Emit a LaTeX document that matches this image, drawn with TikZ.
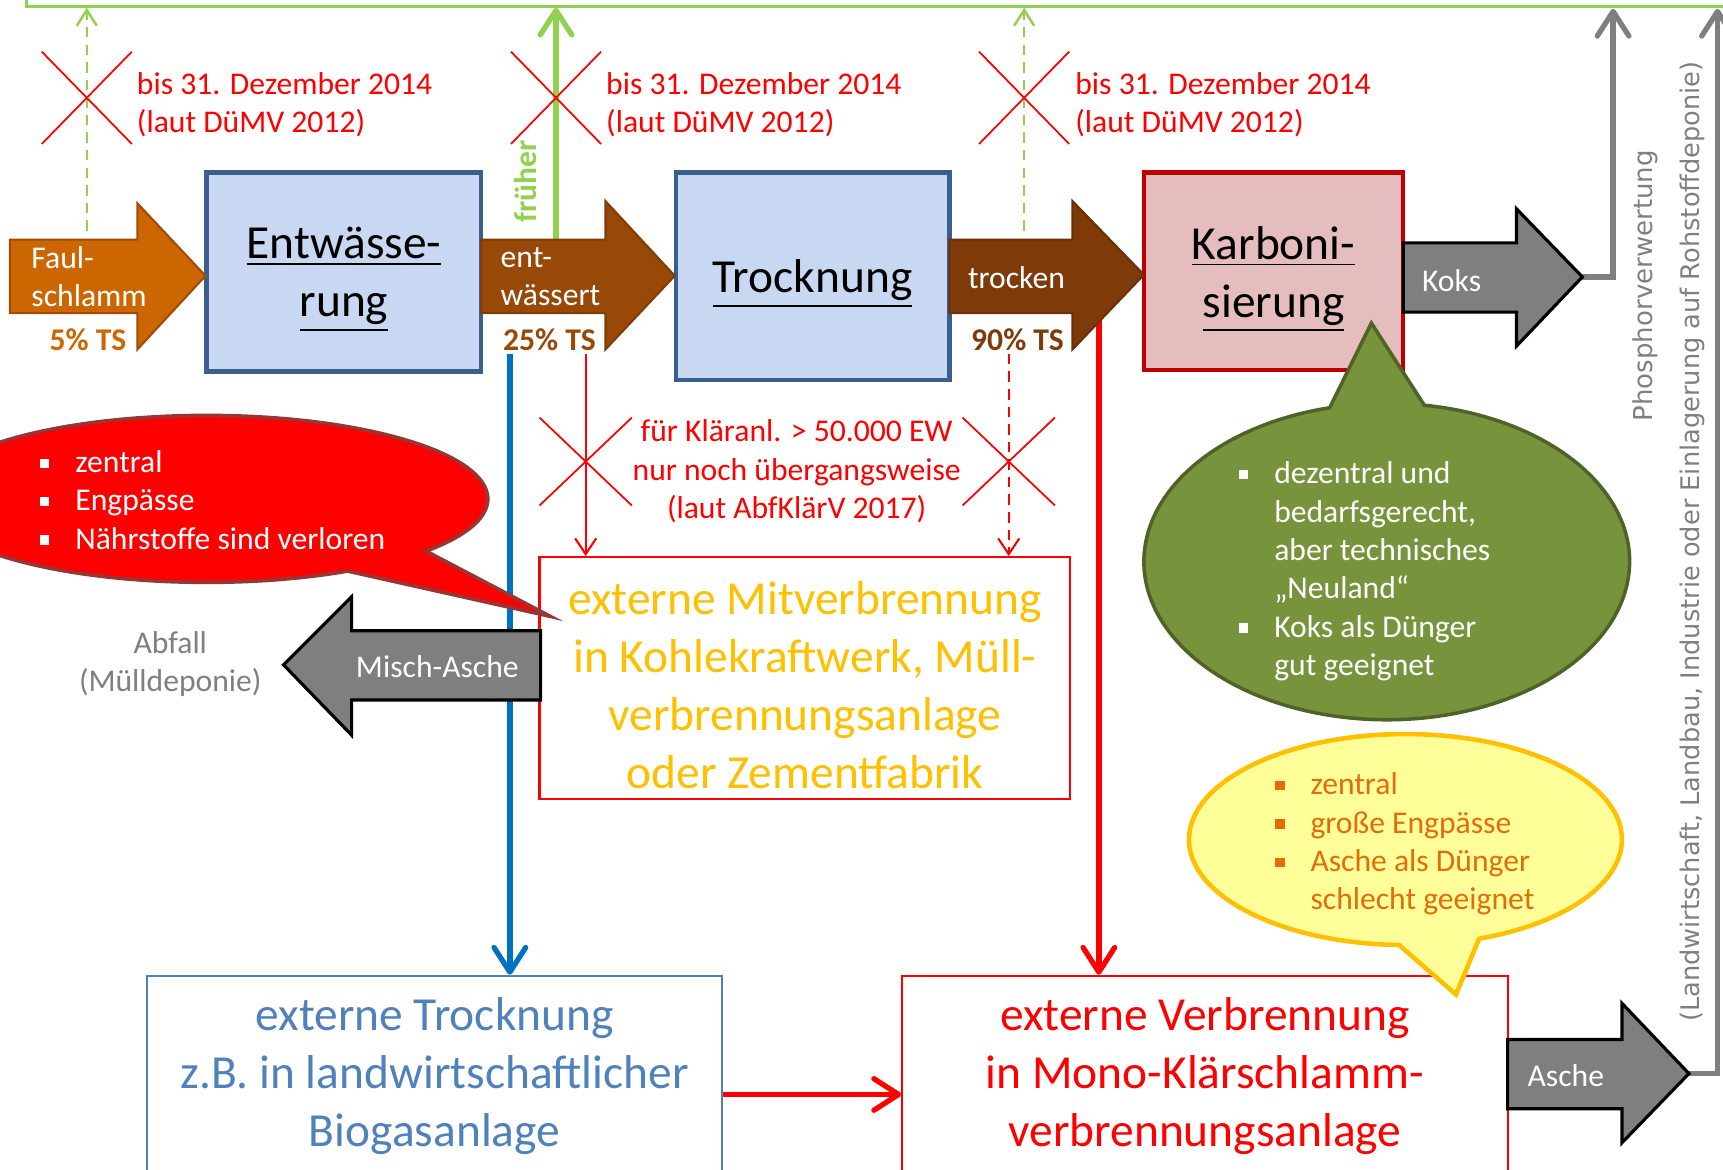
\documentclass[tikz,border=0pt]{standalone}
\usepackage{fontspec}
\setmainfont{Carlito}
\newfontfamily\sidefont{DejaVu Sans}
\usetikzlibrary{arrows.meta,calc}

\definecolor{faulorange}{HTML}{CC6600}
\definecolor{faulborder}{HTML}{A04C06}
\definecolor{entwbrown}{HTML}{984807}
\definecolor{trockbrown}{HTML}{7F3A0A}
\definecolor{stageblue}{HTML}{C9D8F2}
\definecolor{stageborder}{HTML}{3A5F8F}
\definecolor{karbpink}{HTML}{E6BDBE}
\definecolor{karbborder}{HTML}{C00000}
\definecolor{ashgray}{HTML}{7F7F7F}
\definecolor{oldgreen}{HTML}{92D050}
\definecolor{flowblue}{HTML}{0070C0}
\definecolor{textblue}{HTML}{4F81BD}
\definecolor{mitvgold}{HTML}{FFC000}
\definecolor{callred}{HTML}{953735}
\definecolor{callgreen}{HTML}{77933C}
\definecolor{callgreenborder}{HTML}{4F6228}
\definecolor{callyellow}{HTML}{FFFF99}
\definecolor{callorange}{HTML}{E46C0A}

\newcommand{\unitpx}{0.3127pt}
\newcommand{\sqbullet}{\rule[0.3ex]{2.6pt}{2.6pt}}
\newcommand{\bitem}{\makebox[10pt][l]{\sqbullet}}
\newcommand{\bindent}{\hspace*{10pt}}

\begin{document}
\begin{tikzpicture}[x=\unitpx,y=-\unitpx,
    smalltext/.style={font=\fontsize{9}{10.9}\selectfont,inner sep=0pt},
    bigtext/.style={font=\fontsize{13.5}{16.5}\selectfont,inner sep=0pt},
    stage/.style={draw,line width=1.2pt,inner sep=0pt},
    title/.style={bigtext,align=center},
    plant/.style={draw,line width=0.6pt,fill=white,bigtext,align=center},
    grayarrow/.style={fill=ashgray,draw=black,line width=0.9pt},
    xmark/.style={red,line width=0.5pt},
    lawnote/.style={smalltext,text=red,align=left},
    oldpath/.style={oldgreen,line width=0.7pt,dash pattern=on 3pt off 2pt,-{Straight Barb[length=4.5pt,width=5.7pt]}},
    bigflow/.style={line width=1.5pt,-{Straight Barb[length=7pt,width=9pt,round]}},
    thinflow/.style={red,line width=0.6pt,-{Straight Barb[length=4.5pt,width=6pt]}}
  ]
  \useasboundingbox (0,0) rectangle (1568,1064);
  \clip (0,0) rectangle (1568,1064);

  % process stages
  \node[stage,fill=stageblue,draw=stageborder,minimum width=250*\unitpx,minimum height=181*\unitpx] (entw) at (313,247.5) {};
  \node[stage,fill=stageblue,draw=stageborder,minimum width=249*\unitpx,minimum height=189*\unitpx] (trock) at (739.5,251.5) {};
  \node[stage,fill=karbpink,draw=karbborder,minimum width=236*\unitpx,minimum height=180*\unitpx] (karb) at (1159,247) {};
  \node[title] (entwname) at ([yshift=-2.2pt]entw.center) {\underline{Entwässe-}\\\underline{rung}};
  \node[title] (trockname) at ([yshift=-2.2pt]trock.center) {\underline{Trocknung}};
  \node[title] (karbname) at ([yshift=-2.2pt]karb.center) {\underline{Karboni-}\\\underline{sierung}};

  % external plants
  \node[plant,draw=red,minimum width=483*\unitpx,minimum height=220*\unitpx] (mitv) at (732.5,617) {};
  \node[title,text=mitvgold] (mitvname) at ([yshift=-2pt]mitv.center) {externe Mitverbrennung\\in Kohlekraftwerk, Müll-\\verbrennungsanlage\\oder Zementfabrik};
  \node[plant,draw=textblue,text=textblue,minimum width=523*\unitpx,minimum height=182*\unitpx] (extT) at (395.5,979) {externe Trocknung\\z.B. in landwirtschaftlicher\\Biogasanlage};
  \node[plant,draw=red,text=red,minimum width=551*\unitpx,minimum height=182*\unitpx] (extV) at (1096.5,979) {externe Verbrennung\\in Mono-Klärschlamm-\\verbrennungsanlage};

  % old routes to the field
  \draw[oldgreen,line width=0.7pt] (24,-10) |- (1580,6);
  \coordinate (top1) at (79,7);
  \coordinate (top2) at (506,7);
  \coordinate (top3) at (932,7);
  \draw[oldpath] (79,210) -- (top1);
  \draw[oldpath] (932,210) -- (top3);
  \draw[bigflow,oldgreen] (506,230) -- (top2);
  \node[smalltext,rotate=90,text=oldgreen] (frueher) at (478,165) {\bfseries früher};

  \draw[xmark] (79,89) +(-41,-42) -- +(41,42) +(-41,42) -- +(41,-42);
  \draw[xmark] (506,89) +(-41,-42) -- +(41,42) +(-41,42) -- +(41,-42);
  \draw[xmark] (932,89) +(-41,-42) -- +(41,42) +(-41,42) -- +(41,-42);
  \node[lawnote,anchor=west] (law1) at (124,95) {bis 31. Dezember 2014\\(laut DüMV 2012)};
  \node[lawnote,anchor=west] (law2) at (551,95) {bis 31. Dezember 2014\\(laut DüMV 2012)};
  \node[lawnote,anchor=west] (law3) at (978,95) {bis 31. Dezember 2014\\(laut DüMV 2012)};

  % flows downwards
  \coordinate (blue0) at (464,322);
  \coordinate (red0) at (1000,285);
  \coordinate (klar1) at (533,322);
  \coordinate (klar2) at (918,322);
  \coordinate (lane) at (0,996);
  \draw[bigflow,flowblue] (blue0) -- (blue0 |- extT.north);
  \draw[bigflow,red] (red0) -- (red0 |- extV.north);
  \draw[bigflow,red] (extT.east |- lane) -- (extV.west |- lane);
  \draw[thinflow] (klar1) -- (klar1 |- mitv.north);
  \draw[thinflow,dash pattern=on 3pt off 2pt] (klar2) -- (klar2 |- mitv.north);
  \draw[xmark] (533,420) +(-42,-40) -- +(42,40) +(-42,40) -- +(42,-40);
  \draw[xmark] (918,420) +(-42,-40) -- +(42,40) +(-42,40) -- +(42,-40);
  \node[lawnote,align=center] (law4) at (725,429) {für Kläranl. > 50.000 EW\\nur noch übergangsweise\\(laut AbfKlärV 2017)};

  % recovery routes
  \coordinate (kokstip) at (1440,252);
  \coordinate (aschetip) at (1537,977);
  \coordinate (phosend) at (1468,8);
  \coordinate (useend) at (1563,8);
  \draw[bigflow,ashgray] (kokstip) -| (phosend);
  \draw[bigflow,ashgray] (aschetip) -| (useend);
  \node[rotate=90,text=ashgray,font=\sidefont\fontsize{7.4}{9}\selectfont] (phos) at (1497,260) {Phosphorverwertung};
  \node[rotate=90,text=ashgray,font=\sidefont\fontsize{7.3}{9}\selectfont] (usage) at (1540,493) {(Landwirtschaft, Landbau, Industrie oder Einlagerung auf Rohstoffdeponie)};

  % block arrows
  \filldraw[fill=faulorange,draw=faulborder,line width=0.6pt] (9,218) -- (125,218) -- (125,185) -- (187,251) -- (125,318) -- (125,285) -- (9,285) -- cycle;
  \filldraw[fill=entwbrown,draw=entwbrown!85!black,line width=0.6pt] (438,218) -- (551,218) -- (551,183) -- (614,251) -- (551,318) -- (551,285) -- (438,285) -- cycle;
  \filldraw[fill=trockbrown,draw=trockbrown!85!black,line width=0.6pt] (864,218) -- (976,218) -- (976,183) -- (1041,250) -- (976,318) -- (976,285) -- (864,285) -- cycle;
  \filldraw[grayarrow] (1277,221) -- (1380,221) -- (1380,190) -- (1440,252) -- (1380,315) -- (1380,284) -- (1277,284) -- cycle;
  \filldraw[grayarrow] (492,574) -- (320,574) -- (320,543) -- (258,605) -- (320,669) -- (320,637) -- (492,637) -- cycle;
  \filldraw[grayarrow] (1372,946) -- (1476,946) -- (1476,913) -- (1537,977) -- (1476,1040) -- (1476,1009) -- (1372,1009) -- cycle;

  \node[smalltext,text=white,align=left,anchor=west] (faul) at (28,252) {Faul-\\schlamm};
  \node[smalltext,text=faulorange] (ts5) at (80,309) {\bfseries 5\% TS};
  \node[smalltext,text=white,align=left,anchor=west] (entwt) at (455,252) {ent-\\wässert};
  \node[smalltext,text=entwbrown] (ts25) at (500,309) {\bfseries 25\% TS};
  \node[smalltext,text=white] (trockt) at (925,253) {trocken};
  \node[smalltext,text=trockbrown] (ts90) at (926,309) {\bfseries 90\% TS};
  \node[smalltext,text=white] (koks) at (1321,255) {Koks};
  \node[smalltext,text=white] (misch) at (398,607) {Misch-Asche};
  \node[smalltext,text=white] (asche) at (1425,979) {Asche};
  \node[smalltext,text=ashgray,align=center] (abfall) at (155,604) {Abfall\\(Mülldeponie)};

  % callouts
  \coordinate (rc) at (188,454);
  \filldraw[fill=red,draw=callred,line width=1pt] ($(rc)+(59.9:256 and 76)$) -- (501,561) -- ($(rc)+(38.7:256 and 76)$) arc[start angle=38.7,end angle=-300.1,x radius=256,y radius=76] -- cycle;
  \node[smalltext,text=white,align=left,anchor=west] (central) at (36,455) {\bitem zentral\\\bitem Engpässe\\\bitem Nährstoffe sind verloren};

  \coordinate (gc) at (1262,511);
  \filldraw[fill=callgreen,draw=callgreenborder,line width=1pt] ($(gc)+(-103.6:221 and 144)$) -- (1248,294) -- ($(gc)+(-81.1:221 and 144)$) arc[start angle=-81.1,end angle=256.4,x radius=221,y radius=144] -- cycle;
  \node[smalltext,text=white,align=left,anchor=west] (decentral) at (1127,520) {\bitem dezentral und\\\bindent bedarfsgerecht,\\\bindent aber technisches\\\bindent „Neuland“\\\bitem Koks als Dünger\\\bindent gut geeignet};

  \coordinate (yc) at (1279,764);
  \filldraw[fill=callyellow,draw=mitvgold,line width=1.3pt] ($(yc)+(70.1:197 and 96)$) -- (1325,905) -- ($(yc)+(91.7:197 and 96)$) arc[start angle=91.7,end angle=430.1,x radius=197,y radius=96] -- cycle;
  \node[smalltext,text=callorange,align=left,anchor=west] (mono) at (1160,768) {\bitem zentral\\\bitem große Engpässe\\\bitem Asche als Dünger\\\bindent schlecht geeignet};
\end{tikzpicture}
\end{document}
